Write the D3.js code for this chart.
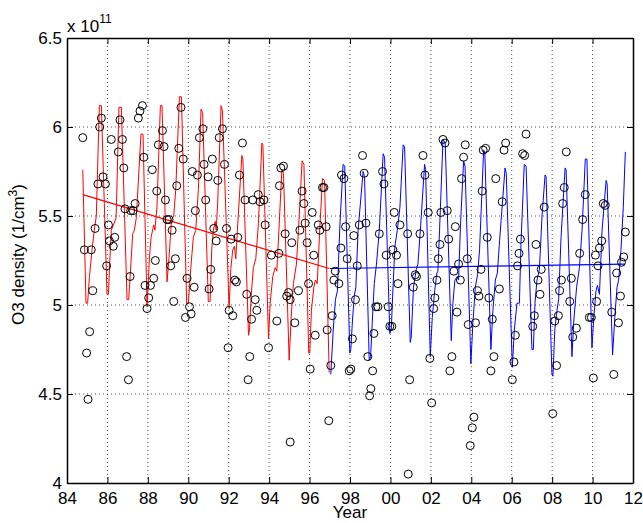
<!DOCTYPE html>
<html>
<head>
<meta charset="utf-8">
<script src="https://cdn.jsdelivr.net/npm/d3@7"></script>
<style>
  body { margin: 0; background: #fff; }
  svg { display: block; font-family: 'Liberation Sans', Arial, sans-serif; }
  .grid line { stroke: #555; stroke-dasharray: 1,3; stroke-width: 1; }
</style>
</head>
<body>
<div id="chart"></div>
<script>
// tick values and labels
const xTicks = [84, 86, 88, 90, 92, 94, 96, 98, 100, 102, 104, 106, 108, 110, 112];
const xTickLabels = ['84', '86', '88', '90', '92', '94', '96', '98', '00', '02', '04', '06', '08', '10', '12'];
const yTicks = [4, 4.5, 5, 5.5, 6, 6.5];
const yTickLabels = ['4', '4.5', '5', '5.5', '6', '6.5'];

// observations: [year, O3 density in 1e11 /cm^3]
const observations = [
  [84.78, 5.94], [85.62, 6.00], [85.70, 6.05], [85.53, 5.68], [85.78, 5.72], [85.90, 5.68], [85.39, 5.43],
  [84.86, 5.31], [85.20, 5.31], [85.27, 5.08], [85.12, 4.85], [84.97, 4.73], [85.04, 4.47], [86.05, 5.45],
  [86.10, 5.36], [86.36, 5.38], [86.29, 5.33], [85.96, 5.22], [86.19, 5.93], [86.54, 5.86], [86.62, 6.04],
  [86.74, 5.93], [86.81, 5.77], [86.87, 5.54], [87.15, 5.53], [87.27, 5.53], [87.37, 5.57], [87.12, 5.16],
  [86.95, 4.71], [87.04, 4.58], [87.53, 6.05], [87.61, 6.09], [87.73, 6.12], [87.80, 5.83], [88.22, 5.76],
  [87.86, 5.11], [88.13, 5.11], [88.04, 5.04], [87.96, 4.98], [88.37, 5.25], [88.29, 5.15], [88.44, 5.64],
  [88.52, 5.90], [88.72, 5.98], [88.80, 5.89], [88.87, 5.59], [88.95, 5.48], [89.05, 5.48], [89.20, 5.42],
  [89.13, 5.22], [89.36, 5.26], [89.28, 5.02], [89.43, 5.67], [89.53, 5.88], [89.64, 6.11], [89.75, 5.82],
  [89.94, 5.15], [90.29, 5.10], [90.06, 4.99], [90.14, 4.95], [89.86, 4.93], [90.35, 5.53], [90.20, 5.75],
  [90.45, 5.73], [90.55, 5.94], [90.72, 5.99], [90.78, 5.79], [90.98, 5.72], [91.19, 5.82], [90.86, 5.59],
  [91.11, 5.20], [91.03, 5.09], [91.26, 5.43], [91.38, 5.36], [91.46, 5.70], [91.53, 5.94], [91.69, 5.99],
  [91.79, 5.79], [91.89, 5.43], [92.12, 5.37], [92.45, 5.38], [92.02, 4.97], [92.20, 4.94], [91.97, 4.76],
  [92.30, 5.14], [92.38, 5.13], [92.53, 5.73], [92.68, 5.91], [92.81, 5.59], [92.89, 5.06], [93.13, 4.92],
  [93.31, 5.03], [93.39, 4.97], [93.04, 4.71], [92.96, 4.58], [93.19, 5.59], [93.46, 5.62], [93.55, 5.58],
  [93.74, 5.59], [93.80, 5.45], [93.97, 4.76], [94.38, 4.91], [94.11, 5.28], [94.48, 5.29], [94.51, 5.67],
  [94.58, 5.77], [94.71, 5.78], [94.79, 5.40], [95.12, 5.35], [94.87, 5.05], [94.96, 5.07], [95.04, 5.03],
  [95.27, 4.90], [95.04, 4.23], [95.45, 5.08], [95.52, 5.42], [95.63, 5.64], [95.72, 5.57], [95.78, 5.46],
  [96.13, 5.52], [95.88, 5.35], [96.21, 5.28], [95.95, 5.12], [96.28, 4.83], [96.03, 4.64], [96.43, 5.45],
  [96.51, 5.42], [96.82, 5.44], [96.64, 5.66], [96.71, 5.66], [96.87, 4.86], [97.05, 4.66], [96.95, 4.35],
  [97.12, 4.94], [97.27, 5.19], [97.20, 5.14], [97.45, 5.12], [97.55, 5.32], [97.58, 5.73], [97.70, 5.71],
  [97.78, 5.44], [97.86, 5.26], [98.12, 4.81], [97.96, 4.63], [98.04, 4.64], [98.19, 5.39], [98.27, 5.03],
  [98.36, 5.22], [98.46, 5.45], [98.62, 5.84], [98.70, 5.74], [98.79, 5.46], [98.88, 4.71], [99.12, 4.63],
  [99.03, 4.53], [98.97, 4.49], [99.18, 4.84], [99.28, 4.99], [99.38, 4.99], [99.45, 5.40], [99.61, 5.75],
  [99.68, 5.68], [99.79, 5.28], [99.89, 4.99], [99.97, 4.88], [100.07, 4.88], [100.19, 5.52], [100.12, 5.31],
  [100.30, 5.28], [100.37, 5.12], [100.47, 5.45], [100.85, 5.40], [100.95, 4.58], [100.88, 4.05],
  [101.46, 5.40], [101.61, 5.84], [101.71, 5.73], [101.87, 5.52], [102.50, 5.52], [102.81, 5.53], [103.21, 5.44],
  [102.88, 5.37], [102.45, 5.34], [102.37, 5.26], [101.23, 5.17], [101.29, 5.16], [101.13, 5.10], [102.30, 5.14],
  [102.20, 5.04], [102.14, 4.98], [101.95, 4.70], [102.04, 4.45], [102.60, 5.93], [102.70, 5.91], [103.04, 4.71],
  [102.94, 4.63], [103.29, 4.96], [103.14, 5.19], [103.37, 5.23], [103.46, 5.14], [103.80, 5.26], [103.85, 4.89],
  [104.21, 4.90], [103.52, 5.71], [103.62, 5.83], [103.70, 5.90], [103.95, 4.21], [104.05, 4.31], [104.13, 4.37],
  [104.30, 5.08], [104.38, 5.05], [104.48, 5.20], [104.54, 5.64], [104.59, 5.87], [104.71, 5.88], [104.79, 5.38],
  [104.87, 5.04], [105.04, 4.92], [105.12, 4.71], [104.97, 4.63], [105.21, 5.71], [105.39, 5.09], [105.53, 5.58],
  [105.62, 5.87], [105.70, 5.91], [106.18, 4.83], [106.11, 4.68], [106.03, 4.58], [106.29, 5.22], [106.36, 5.29],
  [106.43, 5.37], [106.71, 5.96], [106.54, 5.85], [106.64, 5.84], [107.20, 5.34], [107.46, 5.20], [107.30, 5.14],
  [107.40, 5.06], [107.61, 5.55], [107.12, 4.94], [107.04, 4.88], [108.13, 4.91], [108.22, 4.66], [108.03, 4.39],
  [108.31, 4.94], [108.37, 5.08], [108.46, 5.14], [108.52, 5.57], [108.60, 5.66], [108.70, 5.86], [108.87, 5.02],
  [108.95, 5.15], [109.02, 4.82], [109.20, 4.87], [109.36, 5.29], [109.51, 5.48], [109.64, 5.62], [109.84, 4.93],
  [109.94, 4.93], [110.04, 4.59], [110.20, 5.02], [110.27, 5.22], [110.14, 5.28], [110.34, 5.32], [110.45, 5.36],
  [110.53, 5.57], [110.63, 5.56], [110.95, 4.96], [111.05, 4.61], [111.28, 4.90], [111.38, 5.05], [111.19, 5.18],
  [111.43, 5.24], [111.54, 5.27], [111.62, 5.41],
];

// seasonal fit, 1985-1997 (red)
const redFit = [
  [84.78, 5.76], [84.94, 5.01], [85.02, 5.01], [85.11, 5.16], [85.24, 5.31], [85.35, 5.42], [85.45, 5.50],
  [85.60, 6.12], [85.70, 6.12], [85.98, 5.06], [86.05, 5.06], [86.11, 5.23], [86.19, 5.42], [86.30, 5.45],
  [86.43, 5.49], [86.57, 6.11], [86.69, 6.11], [86.97, 5.03], [87.05, 5.03], [87.14, 5.19], [87.25, 5.40],
  [87.33, 5.42], [87.43, 5.49], [87.66, 5.96], [87.76, 5.96], [87.96, 4.99], [88.08, 5.27], [88.16, 5.38],
  [88.29, 5.45], [88.35, 5.42], [88.45, 5.55], [88.62, 6.12], [88.70, 6.12], [88.95, 5.13], [89.05, 5.27],
  [89.17, 5.48], [89.28, 5.50], [89.38, 5.65], [89.56, 6.17], [89.66, 6.17], [89.92, 5.01], [90.00, 5.01],
  [90.14, 5.23], [90.25, 5.38], [90.37, 5.42], [90.50, 5.65], [90.63, 6.10], [90.71, 6.08], [90.99, 5.02],
  [91.08, 5.02], [91.16, 5.31], [91.24, 5.42], [91.33, 5.47], [91.38, 5.42], [91.46, 5.59], [91.62, 6.12],
  [91.69, 6.09], [92.02, 4.98], [92.10, 5.20], [92.20, 5.31], [92.28, 5.33], [92.35, 5.26], [92.43, 5.42],
  [92.65, 5.84], [92.70, 5.82], [92.98, 4.83], [93.03, 4.86], [93.11, 5.05], [93.22, 5.21], [93.34, 5.26],
  [93.47, 5.46], [93.64, 5.91], [93.69, 5.90], [93.97, 4.81], [94.05, 5.01], [94.18, 5.16], [94.30, 5.21],
  [94.38, 5.19], [94.50, 5.46], [94.63, 5.76], [94.71, 5.74], [94.99, 4.69], [95.09, 4.93], [95.20, 5.12],
  [95.35, 5.23], [95.45, 5.42], [95.63, 5.81], [95.72, 5.79], [95.96, 4.73], [96.01, 4.73], [96.09, 4.97],
  [96.21, 5.10], [96.29, 5.14], [96.38, 5.12], [96.51, 5.44], [96.64, 5.71], [96.74, 5.70], [96.97, 4.62],
];

// seasonal fit, 1997-2011 (blue)
const blueFit = [
  [97.05, 4.61], [97.17, 4.86], [97.28, 5.03], [97.38, 5.08], [97.50, 5.45], [97.66, 5.79], [97.74, 5.78],
  [97.99, 4.73], [98.04, 4.75], [98.12, 4.91], [98.21, 5.05], [98.29, 5.10], [98.40, 5.42], [98.65, 5.75],
  [98.72, 5.72], [98.95, 4.69], [99.02, 4.71], [99.10, 4.90], [99.20, 5.12], [99.31, 5.23], [99.45, 5.42],
  [99.64, 5.85], [99.71, 5.83], [99.97, 4.84], [100.04, 4.86], [100.11, 5.05], [100.22, 5.33], [100.34, 5.42],
  [100.47, 5.55], [100.63, 5.90], [100.70, 5.89], [100.98, 4.79], [101.03, 4.82], [101.14, 5.10], [101.28, 5.20],
  [101.36, 5.23], [101.48, 5.42], [101.69, 5.79], [101.74, 5.76], [101.97, 4.71], [102.07, 4.93], [102.19, 5.08],
  [102.30, 5.18], [102.35, 5.19], [102.43, 5.42], [102.60, 5.93], [102.71, 5.91], [103.01, 4.80], [103.09, 5.01],
  [103.19, 5.14], [103.31, 5.16], [103.37, 5.14], [103.47, 5.46], [103.62, 5.81], [103.69, 5.78], [103.98, 4.67],
  [104.08, 4.90], [104.20, 5.10], [104.31, 5.17], [104.41, 5.31], [104.61, 5.87], [104.67, 5.85], [104.97, 4.75],
  [105.07, 4.97], [105.19, 5.14], [105.29, 5.18], [105.40, 5.36], [105.67, 5.77], [105.73, 5.74], [106.03, 4.65],
  [106.13, 4.86], [106.26, 5.01], [106.38, 5.01], [106.46, 5.35], [106.62, 5.79], [106.71, 5.78], [107.00, 4.75],
  [107.07, 4.75], [107.15, 5.01], [107.25, 5.14], [107.37, 5.20], [107.50, 5.50], [107.65, 5.73], [107.70, 5.72],
  [107.99, 4.61], [108.04, 4.60], [108.13, 4.86], [108.24, 4.97], [108.32, 5.03], [108.44, 5.38], [108.64, 5.77],
  [108.69, 5.76], [108.98, 4.71], [109.07, 4.91], [109.21, 5.10], [109.35, 5.21], [109.48, 5.42], [109.64, 5.82],
  [109.72, 5.82], [109.97, 4.76], [110.06, 4.93], [110.17, 5.08], [110.24, 5.11], [110.34, 5.06], [110.47, 5.42],
  [110.67, 5.70], [110.72, 5.68], [110.99, 4.72], [111.10, 4.93], [111.21, 5.10], [111.29, 5.14], [111.40, 5.30],
  [111.52, 5.55], [111.62, 5.86],
];

// linear trends
const redTrend = [[84.78, 5.62], [96.97, 5.205]];
const blueTrend = [[97.0, 5.205], [111.6, 5.23]];

class OzonePlot {
  constructor(_config) {
    this.config = {
      parentElement: _config.parentElement,
      containerWidth: 643,
      containerHeight: 523,
      margin: { top: 38, right: 10, bottom: 40, left: 67 },
    };
    this.initVis();
  }

  initVis() {
    const vis = this;
    const m = vis.config.margin;
    vis.width = vis.config.containerWidth - m.left - m.right;
    vis.height = vis.config.containerHeight - m.top - m.bottom;

    vis.svg = d3.select(vis.config.parentElement)
      .append('svg')
      .attr('width', vis.config.containerWidth)
      .attr('height', vis.config.containerHeight);

    vis.chartArea = vis.svg.append('g')
      .attr('transform', `translate(${m.left},${m.top})`);

    vis.xScale = d3.scaleLinear().domain([84, 112]).range([0, vis.width]);
    vis.yScale = d3.scaleLinear().domain([4, 6.5]).range([vis.height, 0]);

    vis.renderVis();
  }

  renderVis() {
    const vis = this;
    const x = vis.xScale;
    const y = vis.yScale;

    // dotted grid
    const grid = vis.chartArea.append('g').attr('class', 'grid');
    grid.selectAll('.vgrid')
      .data(xTicks.slice(1, -1))
      .join('line')
      .attr('x1', (d) => x(d)).attr('x2', (d) => x(d))
      .attr('y1', 0).attr('y2', vis.height);
    grid.selectAll('.hgrid')
      .data(yTicks.slice(1, -1))
      .join('line')
      .attr('class', 'hgrid')
      .attr('x1', 0).attr('x2', vis.width)
      .attr('y1', (d) => y(d)).attr('y2', (d) => y(d));

    const line = d3.line().x((d) => x(d[0])).y((d) => y(d[1]));

    vis.chartArea.append('path').datum(redFit)
      .attr('d', line).attr('fill', 'none').attr('stroke', '#ff0000').attr('stroke-width', 1);
    vis.chartArea.append('path').datum(blueFit)
      .attr('d', line).attr('fill', 'none').attr('stroke', '#0000ff').attr('stroke-width', 1);
    vis.chartArea.append('path').datum(redTrend)
      .attr('d', line).attr('fill', 'none').attr('stroke', '#ff0000').attr('stroke-width', 1.2);
    vis.chartArea.append('path').datum(blueTrend)
      .attr('d', line).attr('fill', 'none').attr('stroke', '#0000ff').attr('stroke-width', 1.2);

    vis.chartArea.selectAll('.obs')
      .data(observations)
      .join('circle')
      .attr('class', 'obs')
      .attr('cx', (d) => x(d[0]))
      .attr('cy', (d) => y(d[1]))
      .attr('r', 4)
      .attr('fill', 'none')
      .attr('stroke', '#000')
      .attr('stroke-width', 1);

    // axes, ticks pointing inward on all four sides
    const fmtX = (d) => xTickLabels[xTicks.indexOf(d)];
    const fmtY = (d) => yTickLabels[yTicks.indexOf(d)];
    const axes = [
      { axis: d3.axisBottom(x).tickValues(xTicks).tickFormat(fmtX).tickPadding(9), t: `translate(0,${vis.height})` },
      { axis: d3.axisLeft(y).tickValues(yTicks).tickFormat(fmtY).tickPadding(5), t: 'translate(0,0)' },
      { axis: d3.axisTop(x).tickValues(xTicks).tickFormat(''), t: 'translate(0,0)' },
      { axis: d3.axisRight(y).tickValues(yTicks).tickFormat(''), t: `translate(${vis.width},0)` },
    ];
    axes.forEach((a) => {
      const g = vis.chartArea.append('g')
        .attr('transform', a.t)
        .call(a.axis.tickSizeInner(-6).tickSizeOuter(0));
      g.select('.domain').attr('stroke', '#000').attr('stroke-width', 1.5);
      g.selectAll('.tick line').attr('stroke', '#000');
      g.selectAll('text').style('font-size', '17px').attr('fill', '#000');
      g.attr('font-family', null);
    });

    // exponent label
    const expo = vis.svg.append('text')
      .attr('x', 67).attr('y', 32)
      .style('font-size', '17px');
    expo.append('tspan').text('x 10');
    expo.append('tspan').attr('dy', -9).style('font-size', '12px').text('11');

    // axis titles
    vis.svg.append('text')
      .attr('x', vis.config.margin.left + vis.width / 2)
      .attr('y', 518)
      .attr('text-anchor', 'middle')
      .style('font-size', '17px')
      .text('Year');

    const ylab = vis.svg.append('text')
      .attr('transform', `translate(24,${vis.config.margin.top + vis.height / 2 - 6}) rotate(-90)`)
      .attr('text-anchor', 'middle')
      .style('font-size', '17px');
    ylab.append('tspan').text('O3 density (1/cm');
    ylab.append('tspan').attr('dy', -7).style('font-size', '12px').text('3');
    ylab.append('tspan').attr('dy', 7).text(')');
  }
}

new OzonePlot({ parentElement: '#chart' });
</script>
</body>
</html>
